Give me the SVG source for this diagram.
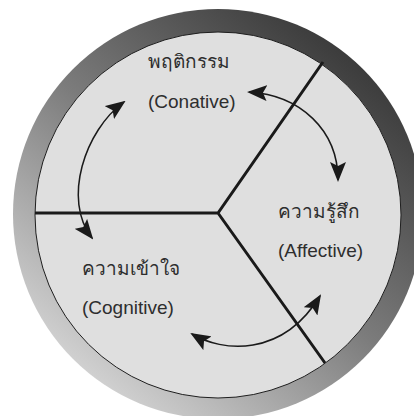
<svg xmlns="http://www.w3.org/2000/svg" width="414" height="416" viewBox="0 0 414 416">
  <defs>
    <linearGradient id="ring" x1="0.85" y1="0.08" x2="0.15" y2="0.92">
      <stop offset="0" stop-color="#363636"/>
      <stop offset="0.5" stop-color="#7c7c7c"/>
      <stop offset="1" stop-color="#d8d8d8"/>
    </linearGradient>
    <marker id="ah" viewBox="0 0 20 16" refX="18" refY="8" markerWidth="20" markerHeight="16" markerUnits="userSpaceOnUse" orient="auto-start-reverse">
      <path d="M0,0 L20,8 L0,16 L4,8 z" fill="#1a1a1a"/>
    </marker>
  </defs>
  <style>
    .lbl { font-family: "Liberation Sans", "Noto Sans", Arial, sans-serif; font-size: 19px; fill: #2e2e2e; }
    .div { stroke: #1a1a1a; stroke-width: 3; fill: none; }
    .arr { stroke: #1a1a1a; stroke-width: 1.5; fill: none; marker-start: url(#ah); marker-end: url(#ah); }
  </style>
  <rect width="414" height="416" fill="#ffffff"/>
  <g id="wheel">
    <circle cx="218" cy="214" r="205" fill="url(#ring)"/>
    <circle cx="218" cy="215" r="183" fill="#dfdfdf" stroke="#1e1e1e" stroke-width="1"/>
  </g>
  <g id="connectors">
    <path class="div" d="M35,213 L218,213 L323,62 M218,213 L325,363"/>
    <path class="arr" d="M124,102 C85,130 62,200 92,238"/>
    <path class="arr" d="M249,92 C300,95 338,130 338,180"/>
    <path class="arr" d="M192,334 C222,352 282,358 320,296"/>
  </g>
  <g id="conative">
    <text class="lbl" x="148" y="68">พฤติกรรม</text>
    <text class="lbl" x="148" y="108">(Conative)</text>
  </g>
  <g id="affective">
    <text class="lbl" x="278" y="218">ความรู้สึก</text>
    <text class="lbl" x="278" y="257">(Affective)</text>
  </g>
  <g id="cognitive">
    <text class="lbl" x="82" y="275">ความเข้าใจ</text>
    <text class="lbl" x="82" y="314">(Cognitive)</text>
  </g>
</svg>
